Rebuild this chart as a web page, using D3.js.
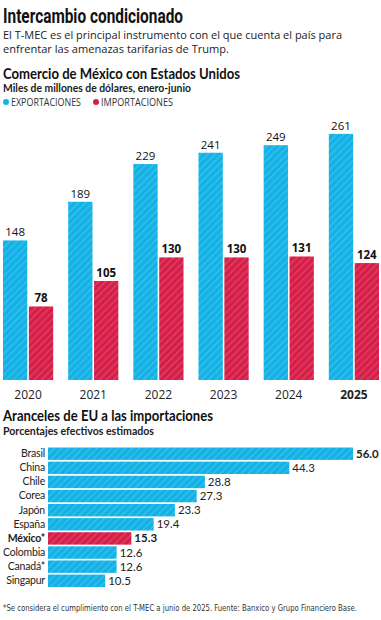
<!DOCTYPE html>
<html>
<head>
<meta charset="utf-8">
<script src="https://d3js.org/d3.v7.min.js"></script>
<style>
body { margin: 0; background: #fff; }
svg { display: block; font-family: "Open Sans", sans-serif; }
</style>
</head>
<body>
<svg id="chart" width="381" height="620"></svg>
<script>
// data
var years = ["2020", "2021", "2022", "2023", "2024", "2025"];
var exportaciones = [148, 189, 229, 241, 249, 261];
var importaciones = [78, 105, 130, 130, 131, 124];

var paises = ["Brasil", "China", "Chile", "Corea", "Japón", "España", "México*", "Colombia", "Canadá*", "Singapur"];
var aranceles = [56.0, 44.3, 28.8, 27.3, 23.3, 19.4, 15.3, 12.6, 12.6, 10.5];

var blue = "#13b2e6";
var red = "#d61e48";

var svg = d3.select("#chart");

// striped fills
var defs = svg.append("defs");
function stripes(id, color) {
    var p = defs.append("pattern")
        .attr("id", id)
        .attr("patternUnits", "userSpaceOnUse")
        .attr("width", 5).attr("height", 5)
        .attr("patternTransform", "rotate(45)");
    p.append("rect").attr("width", 5).attr("height", 5).attr("fill", color);
    p.append("rect").attr("width", 1.2).attr("height", 5).attr("fill", "#fff").attr("opacity", 0.18);
}
stripes("stripeBlue", blue);
stripes("stripeRed", red);

// headings
svg.append("text").attr("x", 3).attr("y", 23)
    .attr("textLength", 180).attr("lengthAdjust", "spacingAndGlyphs")
    .style("font-family", "Roboto").style("font-weight", 700).style("font-size", "20px")
    .attr("fill", "#111").text("Intercambio condicionado");

svg.append("text").attr("x", 3).attr("y", 38.5)
    .attr("textLength", 339).attr("lengthAdjust", "spacingAndGlyphs")
    .style("font-size", "11.5px").attr("fill", "#222")
    .text("El T-MEC es el principal instrumento con el que cuenta el país para");
svg.append("text").attr("x", 3).attr("y", 52.5)
    .attr("textLength", 226).attr("lengthAdjust", "spacingAndGlyphs")
    .style("font-size", "11.5px").attr("fill", "#222")
    .text("enfrentar las amenazas tarifarias de Trump.");

svg.append("text").attr("x", 3).attr("y", 79)
    .attr("textLength", 237).attr("lengthAdjust", "spacingAndGlyphs")
    .style("font-family", "Lato").style("font-weight", 700).style("font-size", "15px")
    .attr("fill", "#111").text("Comercio de México con Estados Unidos");
svg.append("text").attr("x", 3).attr("y", 92)
    .attr("textLength", 188).attr("lengthAdjust", "spacingAndGlyphs")
    .style("font-family", "Lato").style("font-weight", 700).style("font-size", "11.5px")
    .attr("fill", "#222").text("Miles de millones de dólares, enero-junio");

// legend
var legend = [["EXPORTACIONES", blue, 6, 70], ["IMPORTACIONES", red, 96, 72]];
legend.forEach(function(l) {
    svg.append("circle").attr("cx", l[2]).attr("cy", 102).attr("r", 3).attr("fill", l[1]);
    svg.append("text").attr("x", l[2] + 5).attr("y", 106)
        .attr("textLength", l[3]).attr("lengthAdjust", "spacingAndGlyphs")
        .style("font-size", "10px").attr("fill", "#333").text(l[0]);
});

// vertical bars
var x0 = d3.scaleBand().domain(years).range([3, 379]).paddingInner(0.23).paddingOuter(0);
var x1 = d3.scaleBand().domain(["exp", "imp"]).range([0, x0.bandwidth()]).paddingInner(0.06);
var y = d3.scaleLinear().domain([0, 280]).range([380, 380 - 280 * 0.943]);

var rows = years.map(function(yr, i) {
    return { year: yr, vals: [
        { key: "exp", v: exportaciones[i] },
        { key: "imp", v: importaciones[i] }
    ]};
});

var g = svg.append("g");
var groups = g.selectAll(".grp").data(rows).enter().append("g")
    .attr("transform", function(d) { return "translate(" + x0(d.year) + ",0)"; });

groups.selectAll("rect").data(function(d) { return d.vals; }).enter().append("rect")
    .attr("x", function(d) { return x1(d.key); })
    .attr("y", function(d) { return y(d.v); })
    .attr("width", x1.bandwidth())
    .attr("height", function(d) { return y(0) - y(d.v); })
    .attr("fill", function(d) { return d.key == "exp" ? "url(#stripeBlue)" : "url(#stripeRed)"; });

groups.selectAll(".val").data(function(d) { return d.vals; }).enter().append("text")
    .attr("x", function(d) { return x1(d.key) + x1.bandwidth() / 2; })
    .attr("y", function(d) { return y(d.v) - 4; })
    .attr("text-anchor", "middle")
    .style("font-size", "11.5px")
    .style("font-weight", function(d) { return d.key == "imp" ? 700 : 400; })
    .attr("fill", "#111")
    .text(function(d) { return d.v; });

// year axis
var xAxis = g.append("g").attr("transform", "translate(0,380)")
    .call(d3.axisBottom(x0).tickSize(0).tickPadding(10));
xAxis.select(".domain").remove();
xAxis.selectAll("text")
    .style("font-family", "Open Sans").style("font-size", "12px").attr("fill", "#222")
    .style("font-weight", function(d) { return d == "2025" ? 700 : 400; });

// second chart
svg.append("text").attr("x", 3).attr("y", 421)
    .attr("textLength", 210).attr("lengthAdjust", "spacingAndGlyphs")
    .style("font-family", "Lato").style("font-weight", 700).style("font-size", "15px")
    .attr("fill", "#111").text("Aranceles de EU a las importaciones");
svg.append("text").attr("x", 3).attr("y", 435)
    .attr("textLength", 151).attr("lengthAdjust", "spacingAndGlyphs")
    .style("font-family", "Lato").style("font-weight", 700).style("font-size", "11.5px")
    .attr("fill", "#222").text("Porcentajes efectivos estimados");

var yb = d3.scaleBand().domain(paises).range([447.5, 587]).paddingInner(0.12).paddingOuter(0);
var xb = d3.scaleLinear().domain([0, 56]).range([48, 353]);

var hb = svg.append("g");
hb.selectAll("rect").data(paises).enter().append("rect")
    .attr("x", xb(0))
    .attr("y", function(d) { return yb(d); })
    .attr("width", function(d, i) { return xb(aranceles[i]) - xb(0); })
    .attr("height", yb.bandwidth())
    .attr("fill", function(d) { return d == "México*" ? "url(#stripeRed)" : "url(#stripeBlue)"; });

var yAxis = hb.append("g").attr("transform", "translate(" + (xb(0) - 3) + ",0)")
    .call(d3.axisLeft(yb).tickSize(0).tickPadding(0));
yAxis.select(".domain").remove();
yAxis.selectAll("text")
    .style("font-family", "Lato").style("font-size", "10.5px")
    .style("letter-spacing", "-0.2px").attr("fill", "#222")
    .style("font-weight", function(d) { return d == "México*" ? 700 : 400; });

hb.selectAll(".val").data(paises).enter().append("text")
    .attr("x", function(d, i) { return xb(aranceles[i]) + 3; })
    .attr("y", function(d) { return yb(d) + yb.bandwidth() / 2; })
    .attr("dy", "0.35em")
    .style("font-family", "Lato")
    .style("font-size", "11.5px")
    .style("font-weight", function(d, i) { return (i == 0 || d == "México*") ? 700 : 400; })
    .attr("fill", "#222")
    .text(function(d, i) { return aranceles[i].toFixed(1); });

// footnote
svg.append("text").attr("x", 3).attr("y", 611)
    .attr("textLength", 354).attr("lengthAdjust", "spacingAndGlyphs")
    .style("font-family", "'Liberation Sans Narrow', 'DejaVu Sans Condensed', sans-serif")
    .style("font-size", "8px").attr("fill", "#333")
    .text("*Se considera el cumplimiento con el T-MEC a junio de 2025. Fuente: Banxico y Grupo Financiero Base.");
</script>
</body>
</html>
